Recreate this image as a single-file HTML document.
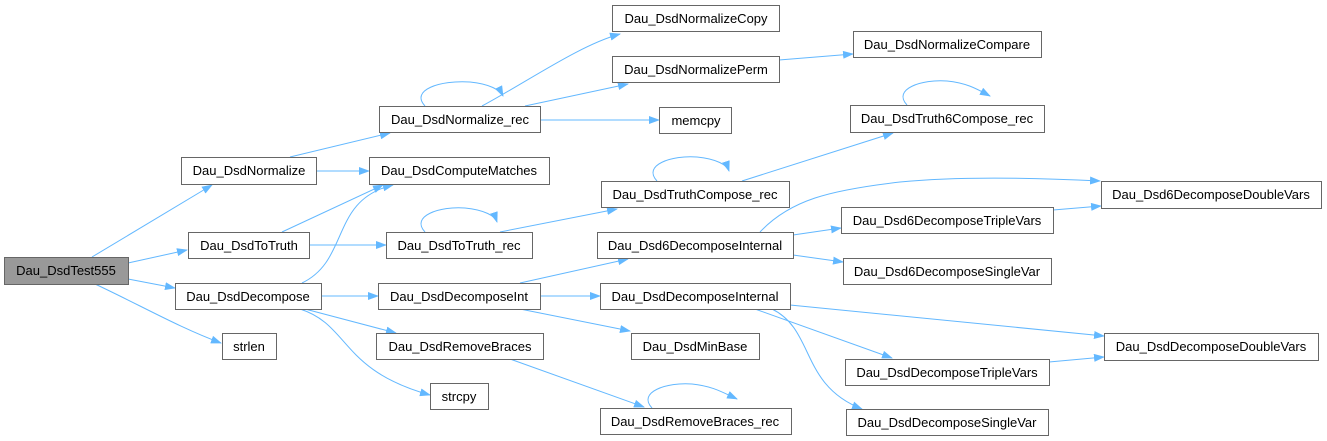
<!DOCTYPE html>
<html><head><meta charset="utf-8"><style>
html,body{margin:0;padding:0;background:#fff;}
svg{display:block;}
text{font-family:"Liberation Sans",Arial,sans-serif;font-size:13px;fill:#000;}
.n{fill:#fff;stroke:#666;stroke-width:1;}
.e{fill:none;stroke:#63b8ff;stroke-width:1;}
</style></head><body>
<svg width="1327" height="441" viewBox="0 0 1327 441" xmlns="http://www.w3.org/2000/svg">
<defs><marker id="a" markerUnits="userSpaceOnUse" markerWidth="11" markerHeight="8" refX="10" refY="4" orient="auto"><path d="M0,0 L11,4 L0,8 z" fill="#63b8ff"/></marker></defs>
<g marker-end="url(#a)">
<path class="e" d="M92,257 L212,185"/>
<path class="e" d="M128,263 L187,250"/>
<path class="e" d="M128,279 L175,288"/>
<path class="e" d="M95,284 C140,305 180,328 221,343"/>
<path class="e" d="M316,171 L369,171"/>
<path class="e" d="M290,157 L390,133"/>
<path class="e" d="M282,232 L383,185"/>
<path class="e" d="M309,245 L386,245"/>
<path class="e" d="M302,283 C350,260 330,200 393,185"/>
<path class="e" d="M322,296 L378,296"/>
<path class="e" d="M305,309 L396,333"/>
<path class="e" d="M300,309 C350,325 340,370 430,395"/>
<path class="e" d="M425,106 C410,90 440,80 470,82 C490,84 500,90 503,96"/>
<path class="e" d="M482,106 C530,80 580,45 620,34"/>
<path class="e" d="M525,106 L628,84"/>
<path class="e" d="M540,120 L659,120"/>
<path class="e" d="M779,60 L853,54"/>
<path class="e" d="M425,232 C410,216 440,206 465,208 C485,210 495,216 497,222"/>
<path class="e" d="M500,232 L617,209"/>
<path class="e" d="M657,181 C642,165 672,155 697,157 C717,159 727,165 729,171"/>
<path class="e" d="M742,181 L893,133"/>
<path class="e" d="M907,105 C892,89 922,79 947,81 C967,83 977,89 990,96"/>
<path class="e" d="M520,283 L628,259"/>
<path class="e" d="M540,296 L600,296"/>
<path class="e" d="M520,309 L630,331"/>
<path class="e" d="M510,359 L644,407"/>
<path class="e" d="M652,408 C637,392 667,382 692,384 C712,386 722,392 737,399"/>
<path class="e" d="M760,232 C790,200 830,190 900,182 C960,176 1040,178 1100,181"/>
<path class="e" d="M793,235 L841,228"/>
<path class="e" d="M793,255 L843,262"/>
<path class="e" d="M1053,210 L1101,206"/>
<path class="e" d="M790,305 L1104,336"/>
<path class="e" d="M755,309 L892,358"/>
<path class="e" d="M772,309 C815,330 800,385 862,409"/>
<path class="e" d="M1049,362 L1104,357"/>
</g>
<rect x="4.5" y="257.5" width="124" height="27" fill="#999" stroke="#666"/><text x="66" y="275" text-anchor="middle">Dau_DsdTest555</text>
<rect class="n" x="181.5" y="157.5" width="135" height="27"/><text x="249" y="175" text-anchor="middle">Dau_DsdNormalize</text>
<rect class="n" x="188.5" y="232.5" width="121" height="26"/><text x="249" y="250" text-anchor="middle">Dau_DsdToTruth</text>
<rect class="n" x="175.5" y="283.5" width="146" height="26"/><text x="248" y="301" text-anchor="middle">Dau_DsdDecompose</text>
<rect class="n" x="222.5" y="333.5" width="54" height="26"/><text x="249" y="351" text-anchor="middle">strlen</text>
<rect class="n" x="379.5" y="106.5" width="161" height="26"/><text x="460" y="124" text-anchor="middle">Dau_DsdNormalize_rec</text>
<rect class="n" x="369.5" y="157.5" width="180" height="27"/><text x="459" y="175" text-anchor="middle">Dau_DsdComputeMatches</text>
<rect class="n" x="386.5" y="232.5" width="146" height="26"/><text x="459" y="250" text-anchor="middle">Dau_DsdToTruth_rec</text>
<rect class="n" x="378.5" y="283.5" width="162" height="26"/><text x="459" y="301" text-anchor="middle">Dau_DsdDecomposeInt</text>
<rect class="n" x="376.5" y="333.5" width="167" height="26"/><text x="460" y="351" text-anchor="middle">Dau_DsdRemoveBraces</text>
<rect class="n" x="430.5" y="383.5" width="58" height="26"/><text x="459" y="401" text-anchor="middle">strcpy</text>
<rect class="n" x="612.5" y="5.5" width="167" height="26"/><text x="696" y="23" text-anchor="middle">Dau_DsdNormalizeCopy</text>
<rect class="n" x="612.5" y="56.5" width="167" height="26"/><text x="696" y="74" text-anchor="middle">Dau_DsdNormalizePerm</text>
<rect class="n" x="659.5" y="107.5" width="72" height="26"/><text x="696" y="125" text-anchor="middle">memcpy</text>
<rect class="n" x="601.5" y="181.5" width="188" height="26"/><text x="695" y="199" text-anchor="middle">Dau_DsdTruthCompose_rec</text>
<rect class="n" x="597.5" y="232.5" width="196" height="26"/><text x="695" y="250" text-anchor="middle">Dau_Dsd6DecomposeInternal</text>
<rect class="n" x="600.5" y="283.5" width="190" height="26"/><text x="695" y="301" text-anchor="middle">Dau_DsdDecomposeInternal</text>
<rect class="n" x="631.5" y="333.5" width="128" height="26"/><text x="695" y="351" text-anchor="middle">Dau_DsdMinBase</text>
<rect class="n" x="600.5" y="408.5" width="191" height="26"/><text x="695" y="426" text-anchor="middle">Dau_DsdRemoveBraces_rec</text>
<rect class="n" x="853.5" y="31.5" width="188" height="26"/><text x="947" y="49" text-anchor="middle">Dau_DsdNormalizeCompare</text>
<rect class="n" x="850.5" y="105.5" width="194" height="27"/><text x="947" y="123" text-anchor="middle">Dau_DsdTruth6Compose_rec</text>
<rect class="n" x="841.5" y="207.5" width="212" height="26"/><text x="947" y="225" text-anchor="middle">Dau_Dsd6DecomposeTripleVars</text>
<rect class="n" x="843.5" y="258.5" width="208" height="26"/><text x="947" y="276" text-anchor="middle">Dau_Dsd6DecomposeSingleVar</text>
<rect class="n" x="1101.5" y="181.5" width="220" height="27"/><text x="1211" y="199" text-anchor="middle">Dau_Dsd6DecomposeDoubleVars</text>
<rect class="n" x="1104.5" y="333.5" width="214" height="27"/><text x="1211" y="351" text-anchor="middle">Dau_DsdDecomposeDoubleVars</text>
<rect class="n" x="845.5" y="359.5" width="204" height="26"/><text x="947" y="377" text-anchor="middle">Dau_DsdDecomposeTripleVars</text>
<rect class="n" x="846.5" y="409.5" width="202" height="26"/><text x="947" y="427" text-anchor="middle">Dau_DsdDecomposeSingleVar</text>
</svg>
</body></html>
